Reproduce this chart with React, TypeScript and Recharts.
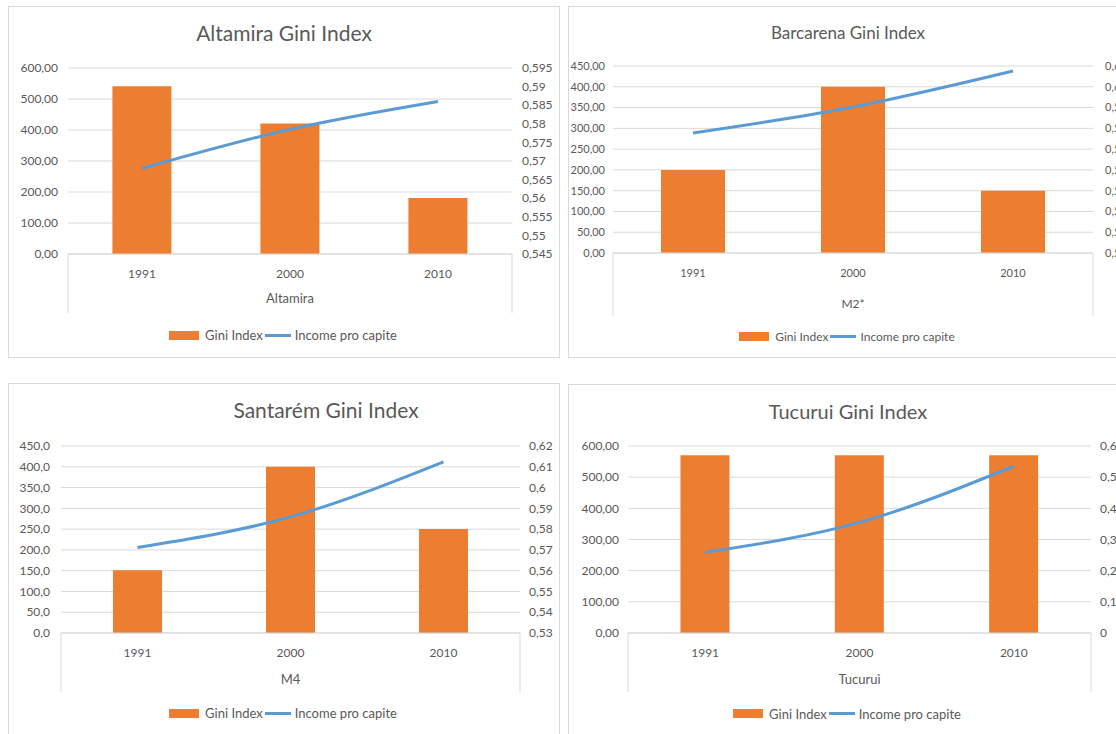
import { ComposedChart, Bar, Line, XAxis, YAxis, CartesianGrid, Legend } from 'recharts'

const BAR_COLOR = '#ED7D31'
const LINE_COLOR = '#5B9BD5'
const TEXT = '#595959'
const GRID = '#D9D9D9'
const FONT = 'Lato, "Open Sans", "DejaVu Sans", sans-serif'

const years = ['1991', '2000', '2010']

// Altamira
const altamiraGini = [541, 421, 181]
const altamiraIncome = [0.568, 0.5785, 0.586]
const altamiraLeftTicks = [0, 100, 200, 300, 400, 500, 600]
const altamiraRightTicks = [0.545, 0.55, 0.555, 0.56, 0.565, 0.57, 0.575, 0.58, 0.585, 0.59, 0.595]

// Barcarena
const barcarenaGini = [200, 400, 150]
const barcarenaIncome = [0.5778, 0.5903, 0.6076]
const barcarenaLeftTicks = [0, 50, 100, 150, 200, 250, 300, 350, 400, 450]
const barcarenaRightTicks = [0.52, 0.53, 0.54, 0.55, 0.56, 0.57, 0.58, 0.59, 0.6, 0.61]

// Santarém
const santaremGini = [151, 400, 250]
const santaremIncome = [0.5712, 0.5859, 0.6124]
const santaremLeftTicks = [0, 50, 100, 150, 200, 250, 300, 350, 400, 450]
const santaremRightTicks = [0.53, 0.54, 0.55, 0.56, 0.57, 0.58, 0.59, 0.6, 0.61, 0.62]

// Tucurui
const tucuruiGini = [570, 570, 570]
const tucuruiIncome = [0.259, 0.355, 0.535]
const tucuruiLeftTicks = [0, 100, 200, 300, 400, 500, 600]
const tucuruiRightTicks = [0, 0.1, 0.2, 0.3, 0.4, 0.5, 0.6]

const fmtFixed = (digits: number) => (v: number) => v.toFixed(digits).replace('.', ',')
const fmtShort = (v: number) => String(Number(v.toFixed(3))).replace('.', ',')

// numeric axis ids so the year axis is stacked next to the plot, the group axis below it
const YEAR_AXIS = 0
const GROUP_AXIS = 1

type PanelProps = {
  left: number
  top: number
  width: number
  height: number
  title: string
  titleSize: number
  titleY: number
  titleShift: number
  group: string
  gini: number[]
  income: number[]
  leftTicks: number[]
  rightTicks: number[]
  leftDigits: number
  plotTop: number
  plotBottom: number
  leftW: number
  rightW: number
  yearH: number
  groupH: number
  yearMargin: number
  leftMargin: number
  rightMargin: number
  groupDy: number
  fs: number
  legendFs: number
  gap: string
}

function GiniPanel(p: PanelProps) {
  const data = years.map((year, i) => ({
    year,
    group: p.group,
    gini: p.gini[i],
    income: p.income[i],
  }))
  const chartW = p.width - 2
  const chartH = p.height - 2
  const legendH = chartH - p.plotBottom - p.yearH - p.groupH
  const plotLeft = p.leftW

  const groupTick = (t: any) => {
    const right = 2 * t.x - plotLeft
    return (
      <g>
        <line x1={plotLeft} x2={plotLeft} y1={t.y - p.yearH} y2={t.y + p.groupH} stroke={GRID} />
        <line x1={right} x2={right} y1={t.y - p.yearH} y2={t.y + p.groupH} stroke={GRID} />
        <text
          x={t.x}
          y={t.y + p.groupDy}
          textAnchor="middle"
          dominantBaseline="central"
          fill={TEXT}
          fontSize={p.fs + 1}
          fontFamily={FONT}
        >
          {t.payload.value}
        </text>
      </g>
    )
  }

  const renderLegend = (props: any) => (
    <div
      style={{
        height: legendH,
        display: 'flex',
        alignItems: 'center',
        justifyContent: 'center',
        fontFamily: FONT,
        fontSize: p.legendFs,
        color: TEXT,
      }}
    >
      {(props.payload || []).map((entry: any) => (
        <span key={entry.value} style={{ display: 'flex', alignItems: 'center', marginRight: 2 }}>
          {entry.type === 'rect' ? (
            <span style={{ display: 'inline-block', width: 30, height: 9, background: entry.color, marginRight: 6 }} />
          ) : (
            <span style={{ display: 'inline-block', width: 26, height: 3, background: entry.color, marginRight: 4 }} />
          )}
          {entry.value}
        </span>
      ))}
    </div>
  )

  const tickStyle = { fill: TEXT, fontSize: p.fs, fontFamily: FONT }

  return (
    <div
      style={{
        position: 'absolute',
        left: p.left,
        top: p.top,
        width: p.width,
        height: p.height,
        border: `1px solid ${GRID}`,
        boxSizing: 'border-box',
        background: '#fff',
      }}
    >
      <ComposedChart
        width={chartW}
        height={chartH}
        data={data}
        margin={{ top: p.plotTop, right: 0, bottom: 0, left: 0 }}
        barCategoryGap={p.gap}
      >
        <CartesianGrid xAxisId={YEAR_AXIS} yAxisId="left" vertical={false} stroke={GRID} />
        <XAxis
          xAxisId={YEAR_AXIS}
          dataKey="year"
          height={p.yearH}
          tickLine={false}
          tickSize={0}
          tickMargin={p.yearMargin}
          axisLine={{ stroke: GRID }}
          tick={tickStyle}
        />
        <XAxis
          xAxisId={GROUP_AXIS}
          dataKey="group"
          allowDuplicatedCategory={false}
          height={p.groupH}
          tickLine={false}
          tickSize={0}
          tickMargin={0}
          axisLine={false}
          tick={groupTick}
        />
        <YAxis
          yAxisId="left"
          width={p.leftW}
          domain={[p.leftTicks[0], p.leftTicks[p.leftTicks.length - 1]]}
          ticks={p.leftTicks}
          interval={0}
          tickLine={false}
          tickSize={0}
          tickMargin={p.leftMargin}
          axisLine={false}
          tick={tickStyle}
          tickFormatter={fmtFixed(p.leftDigits)}
        />
        <YAxis
          yAxisId="right"
          orientation="right"
          width={p.rightW}
          domain={[p.rightTicks[0], p.rightTicks[p.rightTicks.length - 1]]}
          ticks={p.rightTicks}
          interval={0}
          tickLine={false}
          tickSize={0}
          tickMargin={p.rightMargin}
          axisLine={false}
          tick={{ ...tickStyle, textAnchor: 'start' }}
          tickFormatter={fmtShort}
        />
        <Legend verticalAlign="bottom" align="center" content={renderLegend} />
        <Bar
          xAxisId={YEAR_AXIS}
          yAxisId="left"
          dataKey="gini"
          name="Gini Index"
          fill={BAR_COLOR}
          legendType="rect"
          isAnimationActive={false}
        />
        <Line
          xAxisId={YEAR_AXIS}
          yAxisId="right"
          dataKey="income"
          name="Income pro capite"
          type="monotone"
          stroke={LINE_COLOR}
          strokeWidth={3}
          dot={false}
          legendType="plainline"
          isAnimationActive={false}
        />
      </ComposedChart>
      <div
        style={{
          position: 'absolute',
          left: p.titleShift,
          top: p.titleY - 15,
          width: '100%',
          height: 30,
          lineHeight: '30px',
          textAlign: 'center',
          fontFamily: FONT,
          fontSize: p.titleSize,
          color: TEXT,
          pointerEvents: 'none',
        }}
      >
        {p.title}
      </div>
    </div>
  )
}

export default function App() {
  return (
    <div
      style={{
        position: 'fixed',
        left: 0,
        top: 0,
        width: 1116,
        height: 734,
        overflow: 'hidden',
        background: '#fff',
      }}
    >
      <GiniPanel
        left={8} top={6} width={552} height={352}
        title="Altamira Gini Index" titleSize={21} titleY={26} titleShift={0}
        group="Altamira"
        gini={altamiraGini} income={altamiraIncome}
        leftTicks={altamiraLeftTicks} rightTicks={altamiraRightTicks} leftDigits={2}
        plotTop={61} plotBottom={247} leftW={59} rightW={47}
        yearH={30} groupH={29} yearMargin={15} leftMargin={10} rightMargin={10}
        groupDy={14} fs={12} legendFs={13} gap="30%"
      />
      <GiniPanel
        left={568} top={6} width={560} height={352}
        title="Barcarena Gini Index" titleSize={17} titleY={26} titleShift={0}
        group="M2*"
        gini={barcarenaGini} income={barcarenaIncome}
        leftTicks={barcarenaLeftTicks} rightTicks={barcarenaRightTicks} leftDigits={2}
        plotTop={59} plotBottom={246} leftW={44} rightW={34}
        yearH={31} groupH={32} yearMargin={16} leftMargin={8} rightMargin={12}
        groupDy={19} fs={11} legendFs={12} gap="30%"
      />
      <GiniPanel
        left={8} top={383} width={552} height={352}
        title="Santarém Gini Index" titleSize={21} titleY={26} titleShift={42}
        group="M4"
        gini={santaremGini} income={santaremIncome}
        leftTicks={santaremLeftTicks} rightTicks={santaremRightTicks} leftDigits={1}
        plotTop={62} plotBottom={249} leftW={52} rightW={39}
        yearH={31} groupH={28} yearMargin={15} leftMargin={11} rightMargin={9}
        groupDy={15} fs={12} legendFs={13} gap="34%"
      />
      <GiniPanel
        left={568} top={384} width={560} height={352}
        title="Tucurui Gini Index" titleSize={20} titleY={26} titleShift={0}
        group="Tucuruì"
        gini={tucuruiGini} income={tucuruiIncome}
        leftTicks={tucuruiLeftTicks} rightTicks={tucuruiRightTicks} leftDigits={2}
        plotTop={61} plotBottom={248} leftW={59} rightW={36}
        yearH={31} groupH={28} yearMargin={15} leftMargin={9} rightMargin={9}
        groupDy={15} fs={12} legendFs={13} gap="34%"
      />
    </div>
  )
}
